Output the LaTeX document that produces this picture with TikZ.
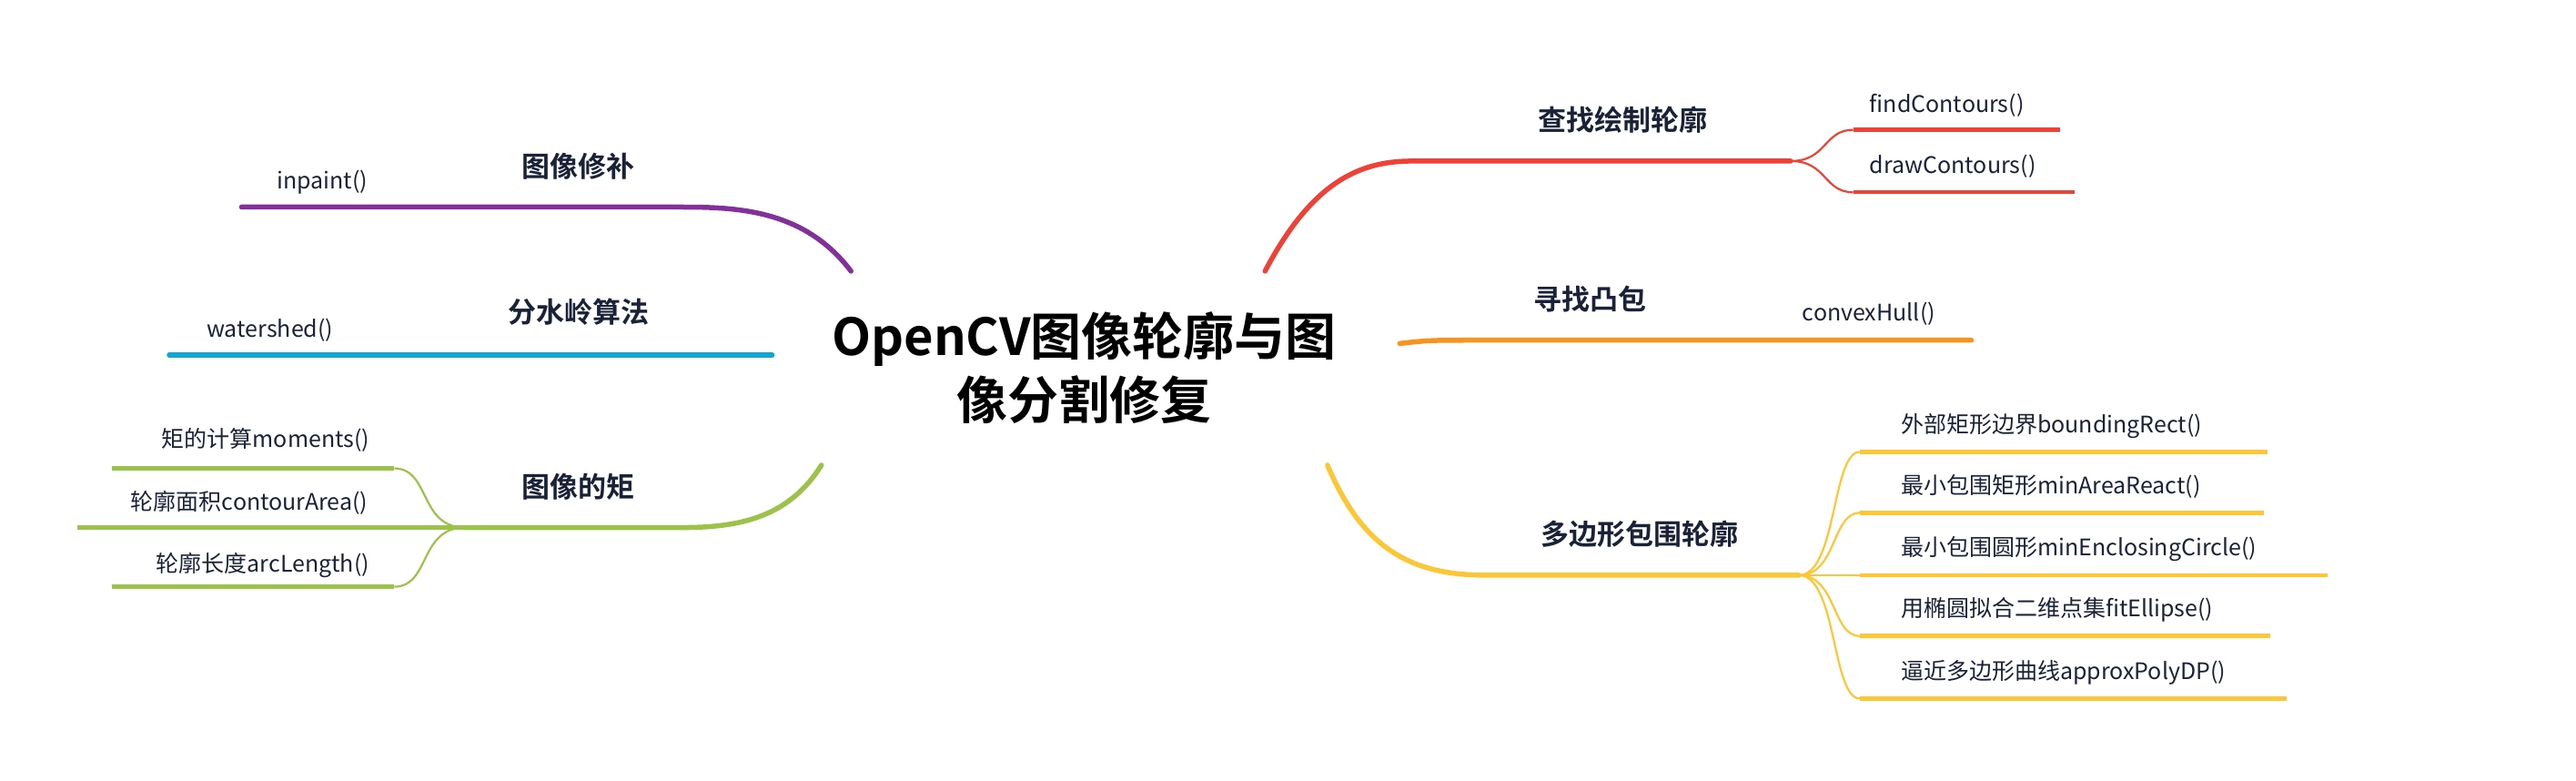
\documentclass[tikz,border=0pt]{standalone}
\usepackage{fontspec}
\setmainfont{Noto Sans CJK SC}[BoldFont={Noto Sans CJK SC Bold}]
\definecolor{cpur}{HTML}{84309A}
\definecolor{ccya}{HTML}{0BA9D3}
\definecolor{cgrn}{HTML}{9DC24A}
\definecolor{cred}{HTML}{EF4136}
\definecolor{corg}{HTML}{F7941D}
\definecolor{cyel}{HTML}{FBC736}
\definecolor{ctxt}{HTML}{1A2238}
\begin{document}
\begin{tikzpicture}[x=1.8055bp,y=-1.8055bp,
  br/.style={line width=5.5bp,line cap=round},
  ln/.style={line width=4.5bp},
  cn/.style={line width=2.2bp},
  lab/.style={font=\fontsize{31bp}{36bp}\selectfont\bfseries,text=ctxt},
  sub/.style={font=\fontsize{25bp}{30bp}\selectfont,text=ctxt,inner sep=0pt}]
\useasboundingbox (0,0) rectangle (1568,475);
\node[font=\fontsize{56bp}{70bp}\selectfont\bfseries,align=center] (root) at (660,224) {OpenCV图像轮廓与图\\像分割修复};
% left: inpaint
\coordinate (pa) at (518,165); \coordinate (pb) at (415,126); \coordinate (pc) at (147,126);
\draw[cpur,br] (pa) .. controls (490,128) and (450,126) .. (pb) -- (pc);
\node[lab] (l1) at (352,101) {图像修补};
\node[sub,anchor=east] (s1) at (224,111) {inpaint()};
% watershed
\coordinate (wa) at (470,216); \coordinate (wb) at (103,216);
\draw[ccya,br] (wa) -- (wb);
\node[lab] (l2) at (352,190) {分水岭算法};
\node[sub,anchor=east] (s2) at (203,201) {watershed()};
% moments
\coordinate (ga) at (500,283); \coordinate (gb) at (415,321); \coordinate (gh) at (283,321);
\draw[cgrn,br] (ga) .. controls (480,315) and (450,321) .. (gb) -- (gh);
\node[lab] (l3) at (352,296) {图像的矩};
\coordinate (g1a) at (240,285); \coordinate (g1b) at (68,285);
\coordinate (g2a) at (240,321); \coordinate (g2b) at (47,321);
\coordinate (g3a) at (240,357); \coordinate (g3b) at (68,357);
\draw[cgrn,cn] (gh) .. controls (255,321) and (262,285) .. (g1a);
\draw[cgrn,cn] (gh) .. controls (255,321) and (262,357) .. (g3a);
\draw[cgrn,ln] (g1a) -- (g1b); \draw[cgrn,ln] (gh) -- (g2b); \draw[cgrn,ln] (g3a) -- (g3b);
\node[sub,anchor=east] (t1) at (225,268) {矩的计算moments()};
\node[sub,anchor=east] (t2) at (224,306) {轮廓面积contourArea()};
\node[sub,anchor=east] (t3) at (225,344) {轮廓长度arcLength()};
% right: find contours
\coordinate (ra) at (770,165); \coordinate (rb) at (860,98); \coordinate (rh) at (1090,98);
\draw[cred,br] (ra) .. controls (800,108) and (830,98) .. (rb) -- (rh);
\node[lab] (l4) at (988,73) {查找绘制轮廓};
\coordinate (r1a) at (1128,79); \coordinate (r1b) at (1254,79);
\coordinate (r2a) at (1128,117); \coordinate (r2b) at (1263,117);
\draw[cred,cn] (rh) .. controls (1112,98) and (1110,79) .. (r1a);
\draw[cred,cn] (rh) .. controls (1112,98) and (1110,117) .. (r2a);
\draw[cred,ln] (r1a) -- (r1b); \draw[cred,ln] (r2a) -- (r2b);
\node[sub,anchor=west] (u1) at (1138,64) {findContours()};
\node[sub,anchor=west] (u2) at (1138,101) {drawContours()};
% convex hull
\coordinate (oa) at (852,209); \coordinate (ob) at (1200,207);
\draw[corg,br] (oa) .. controls (870,207) .. (900,207) -- (ob);
\node[lab] (l5) at (968,182) {寻找凸包};
\node[sub,anchor=west] (u3) at (1097,191) {convexHull()};
% polygons
\coordinate (ya) at (808,283); \coordinate (yb) at (905,350); \coordinate (yh) at (1095,350);
\draw[cyel,br] (ya) .. controls (830,335) and (860,350) .. (yb) -- (yh);
\node[lab] (l6) at (998,325) {多边形包围轮廓};
\foreach \yy/\xe/\nm/\tx in {275/1380/p1/外部矩形边界boundingRect(),312/1378/p2/最小包围矩形minAreaReact(),350/1417/p3/最小包围圆形minEnclosingCircle(),387/1382/p4/用椭圆拟合二维点集fitEllipse(),425/1392/p5/逼近多边形曲线approxPolyDP()}{
  \coordinate (\nm a) at (1132,\yy); \coordinate (\nm b) at (\xe,\yy);
  \draw[cyel,cn] (yh) .. controls (1118,350) and (1115,\yy) .. (\nm a);
  \draw[cyel,ln] (\nm a) -- (\nm b);
  \node[sub,anchor=west] (\nm t) at (1157,\yy-16) {\tx};
}
\end{tikzpicture}
\end{document}
